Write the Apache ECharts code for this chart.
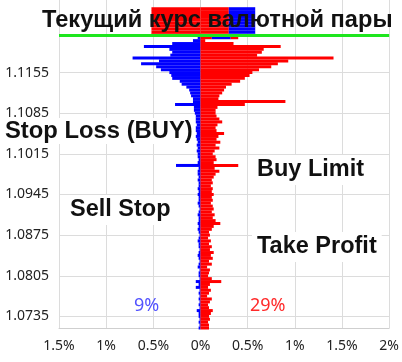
<!DOCTYPE html>
<html><head><meta charset="utf-8">
<script src="https://cdn.jsdelivr.net/npm/echarts@6/dist/echarts.min.js"></script>
<style>html,body{margin:0;padding:0;background:#fff}#c{width:402px;height:362px}</style>
</head><body><div id="c"></div>
<script>
// price levels, bottom to top, step 0.0005
const priceStart = 1.0715, priceStep = 0.0005, levelCount = 114;
const categories = [];
for (let i = 0; i < levelCount; i++) categories.push((priceStart + i * priceStep).toFixed(4));
const yTickLabels = ['1.0735','1.0805','1.0875','1.0945','1.1015','1.1085','1.1155'];
const currentPrice = '1.1220';

// % of long positions / buy orders (right, red), bottom to top
const redRight = [
 0.09,0.09,0.08,0.10,0.09,0.11,0.13,0.09,0.08,0.10,
 0.12,0.07,0.09,0.11,0.08,0.10,0.22,0.12,0.08,0.09,
 0.10,0.07,0.12,0.09,0.13,0.11,0.14,0.10,0.12,0.09,
 0.11,0.08,0.10,0.09,0.12,0.14,0.21,0.16,0.13,0.15,
 0.12,0.14,0.13,0.11,0.13,0.12,0.14,0.12,0.13,0.11,
 0.13,0.12,0.14,0.16,0.20,0.15,0.40,0.14,0.17,0.16,
 0.13,0.15,0.20,0.16,0.21,0.17,0.19,0.25,0.17,0.16,
 0.18,0.23,0.20,0.17,0.16,0.16,0.18,0.47,0.90,0.19,
 0.20,0.23,0.25,0.27,0.33,0.42,0.47,0.52,0.55,0.62,
 0.75,0.82,0.93,1.41,0.60,0.65,0.67,0.85,0.35,0.05,
 0.12,0.30,0.30,0.30,0.30,0.30,0.30,0.30,0.30,0.30,
 0.30,0,0,0
];
// % of short positions / sell orders (left, blue), bottom to top
const blueLeft = [
 0.02,0.01,0.02,0.01,0.02,0.02,0.04,0.01,0.02,0.01,
 0.02,0.01,0.02,0.01,0.05,0.02,0.05,0.01,0.02,0.02,
 0.01,0.03,0.02,0.01,0.02,0.03,0.02,0.01,0.02,0.02,
 0.03,0.02,0.01,0.02,0.03,0.02,0.03,0.02,0.02,0.03,
 0.02,0.01,0.02,0.03,0.02,0.02,0.03,0.02,0.03,0.02,
 0.02,0.03,0.02,0.03,0.03,0.02,0.26,0.03,0.02,0.03,
 0.03,0.04,0.03,0.04,0.03,0.04,0.05,0.04,0.05,0.05,
 0.04,0.05,0.05,0.05,0.06,0.07,0.07,0.27,0.08,0.08,
 0.10,0.11,0.12,0.15,0.20,0.22,0.30,0.31,0.33,0.42,
 0.47,0.63,0.44,0.72,0.32,0.30,0.33,0.60,0.30,0.08,
 0.03,0,0,0,0,0,0,0,0,0,
 0,0,0,0
];
// highlighted block behind the current-price label (levels 100..110)
const topStartIndex = 100;
const topBlueRight = [0.20,0.28,0.28,0.28,0.28,0.28,0.28,0.28,0.28,0.28,0.28];
const topRedRight2 = [0.08,0,0,0,0,0,0,0,0,0,0];
const topRedLeft  = [0,0.52,0.52,0.52,0.52,0.52,0.52,0.52,0.52,0.52,0.52];

const xTicks = {min: -1.5, max: 2, interval: 0.5};

function padTop(arr, sign) {
  const out = new Array(levelCount).fill(null);
  arr.forEach((v, k) => { out[topStartIndex + k] = v ? sign * v : null; });
  return out;
}

const chart = echarts.init(document.getElementById('c'), null, {renderer: 'canvas'});
const showTick = (idx, val) => yTickLabels.indexOf(val) >= 0;
const BW = 3;
chart.setOption({
  animation: false,
  backgroundColor: '#fff',
  grid: {left: 59, right: 10, top: 0, bottom: 34, containLabel: false},
  xAxis: {
    type: 'value', min: xTicks.min, max: xTicks.max, interval: xTicks.interval,
    axisLine: {show: true, lineStyle: {color: '#cfcfcf'}},
    axisTick: {show: false},
    splitLine: {show: true, lineStyle: {color: '#dcdcdc'}},
    axisLabel: {formatter: v => Math.abs(v) + '%', color: '#222', fontFamily: 'Noto Sans', fontSize: 14, margin: 11}
  },
  yAxis: {
    type: 'category', data: categories, boundaryGap: false,
    axisLine: {show: true, lineStyle: {color: '#cfcfcf'}},
    axisTick: {show: false},
    splitLine: {show: true, interval: showTick, lineStyle: {color: '#dcdcdc'}},
    axisLabel: {interval: showTick, color: '#222', fontFamily: 'Noto Sans', fontSize: 14, margin: 10}
  },
  series: [
    {type: 'bar', stack: 's', barWidth: BW, data: blueLeft.map(v => -v), itemStyle: {color: '#0000ff'}, silent: true},
    {type: 'bar', stack: 's', barWidth: BW, data: redRight, itemStyle: {color: '#ff0000'}, silent: true,
     markLine: {silent: true, symbol: ['none','none'], label: {show: false},
       lineStyle: {color: '#1ee61e', width: 3, type: 'solid'}, data: [{yAxis: currentPrice}]}},
    {type: 'bar', stack: 's', barWidth: BW, data: padTop(topBlueRight, 1), itemStyle: {color: '#0000ff'}, silent: true},
    {type: 'bar', stack: 's', barWidth: BW, data: padTop(topRedRight2, 1), itemStyle: {color: '#ff0000'}, silent: true},
    {type: 'bar', stack: 's', barWidth: BW, data: padTop(topRedLeft, -1), itemStyle: {color: '#ff0000'}, silent: true}
  ],
  graphic: [
    {type: 'text', x: 42, y: 20, z: 100, style: {text: 'Текущий курс валютной пары', font: 'bold 23.6px "Liberation Sans"', fill: '#111', verticalAlign: 'middle'}},
    {type: 'text', x: 3, y: 131, z: 100, style: {text: 'Stop Loss (BUY)', font: 'bold 23.8px "Liberation Sans"', fill: '#111', verticalAlign: 'middle', backgroundColor: '#fff', padding: [1, 2]}},
    {type: 'text', x: 252, y: 170, z: 100, style: {text: 'Buy Limit', font: 'bold 23.5px "Liberation Sans"', fill: '#111', verticalAlign: 'middle', backgroundColor: '#fff', padding: [3, 5]}},
    {type: 'text', x: 65, y: 210, z: 100, style: {text: 'Sell Stop', font: 'bold 23.5px "Liberation Sans"', fill: '#111', verticalAlign: 'middle', backgroundColor: '#fff', padding: [3, 5]}},
    {type: 'text', x: 252, y: 247, z: 100, style: {text: 'Take Profit', font: 'bold 23.5px "Liberation Sans"', fill: '#111', verticalAlign: 'middle', backgroundColor: '#fff', padding: [3, 5]}},
    {type: 'text', x: 134, y: 306, z: 100, style: {text: '9%', font: '18px "Noto Sans"', fill: '#5252ff', verticalAlign: 'middle'}},
    {type: 'text', x: 250, y: 306, z: 100, style: {text: '29%', font: '18px "Noto Sans"', fill: '#ff2a2a', verticalAlign: 'middle'}}
  ]
});
</script></body></html>
